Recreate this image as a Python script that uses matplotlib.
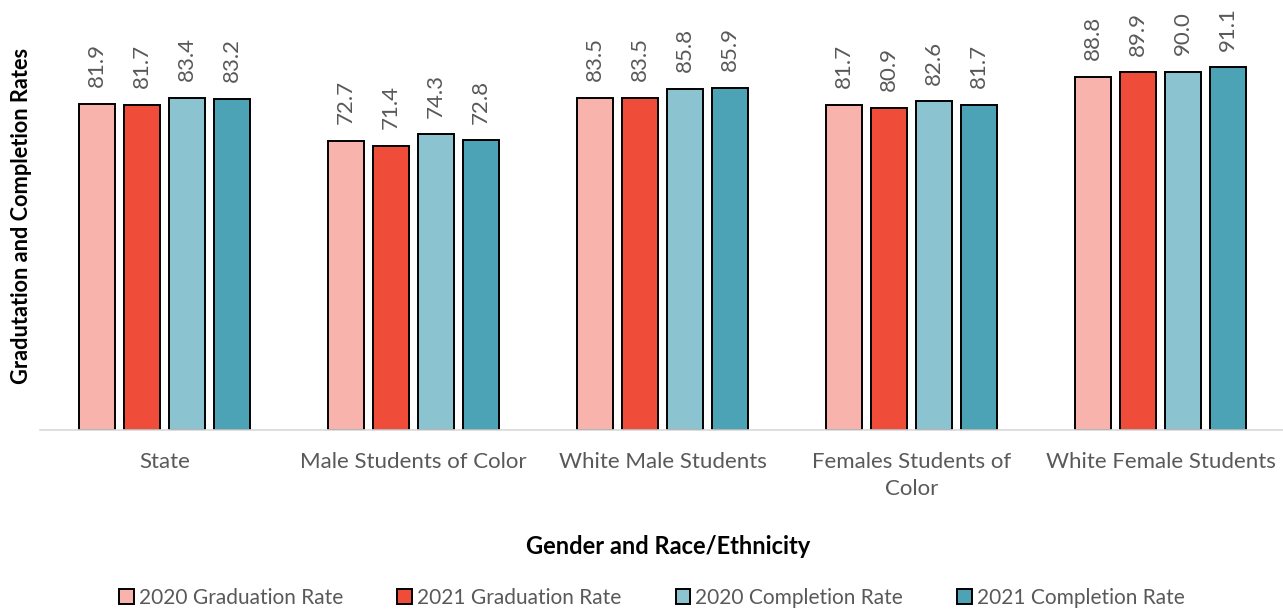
import numpy as np
import matplotlib.pyplot as plt

plt.rcParams['font.family'] = ['Lato', 'DejaVu Sans']

# Data
groups = ['State', 'Male Students of Color', 'White Male Students',
          'Females Students of\nColor', 'White Female Students']
series = ['2020 Graduation Rate', '2021 Graduation Rate',
          '2020 Completion Rate', '2021 Completion Rate']
grad_2020 = [81.9, 72.7, 83.5, 81.7, 88.8]
grad_2021 = [81.7, 71.4, 83.5, 80.9, 89.9]
comp_2020 = [83.4, 74.3, 85.8, 82.6, 90.0]
comp_2021 = [83.2, 72.8, 85.9, 81.7, 91.1]
colors = ['#F8B4AC', '#EF4C3A', '#8CC3D0', '#4BA3B5']

fig = plt.figure(figsize=(12.83, 6.11), dpi=100)
ax = fig.add_axes([40 / 1283, 1 - 430 / 611, 1245 / 1283, 398 / 611])

x = np.arange(len(groups))
width = 0.145
step = 0.181
all_vals = [grad_2020, grad_2021, comp_2020, comp_2021]
for i, (vals, name, c) in enumerate(zip(all_vals, series, colors)):
    pos = x + (i - 1.5) * step
    bars = ax.bar(pos, vals, width, color=c, edgecolor='black', linewidth=1.4, label=name)
    for b, v in zip(bars, vals):
        ax.annotate(f'{v:.1f}', (b.get_x() + b.get_width() / 2, v),
                    xytext=(0, 12), textcoords='offset points',
                    ha='center', va='bottom', rotation=90,
                    fontsize=16, color='#595959')

ax.set_xlim(-0.5, len(groups) - 0.5)
ax.set_ylim(0, 100)
ax.set_yticks([])
for s in ['top', 'right', 'left']:
    ax.spines[s].set_visible(False)
ax.spines['bottom'].set_color('#D9D9D9')
ax.spines['bottom'].set_linewidth(1.2)
ax.set_xticks(x)
ax.set_xticklabels(groups, fontsize=16, color='#595959', linespacing=1.45)
ax.tick_params(axis='x', length=0, pad=16)

fig.text(668 / 1283, 1 - 547 / 611, 'Gender and Race/Ethnicity', ha='center', va='center',
         fontsize=17, fontweight='bold', color='black')
fig.text(22 / 1283, 1 - 216 / 611, 'Gradutation and Completion Rates', ha='center', va='center',
         rotation=90, fontsize=15.7, fontweight='bold', color='black')

leg = fig.legend(loc='center', bbox_to_anchor=(652 / 1283, 1 - 598 / 611), ncol=4,
                 frameon=False, fontsize=15, handlelength=0.7, handleheight=0.7,
                 handletextpad=0.25, columnspacing=2.6)
for t in leg.get_texts():
    t.set_color('#595959')

fig.savefig('out.png', dpi=100)
